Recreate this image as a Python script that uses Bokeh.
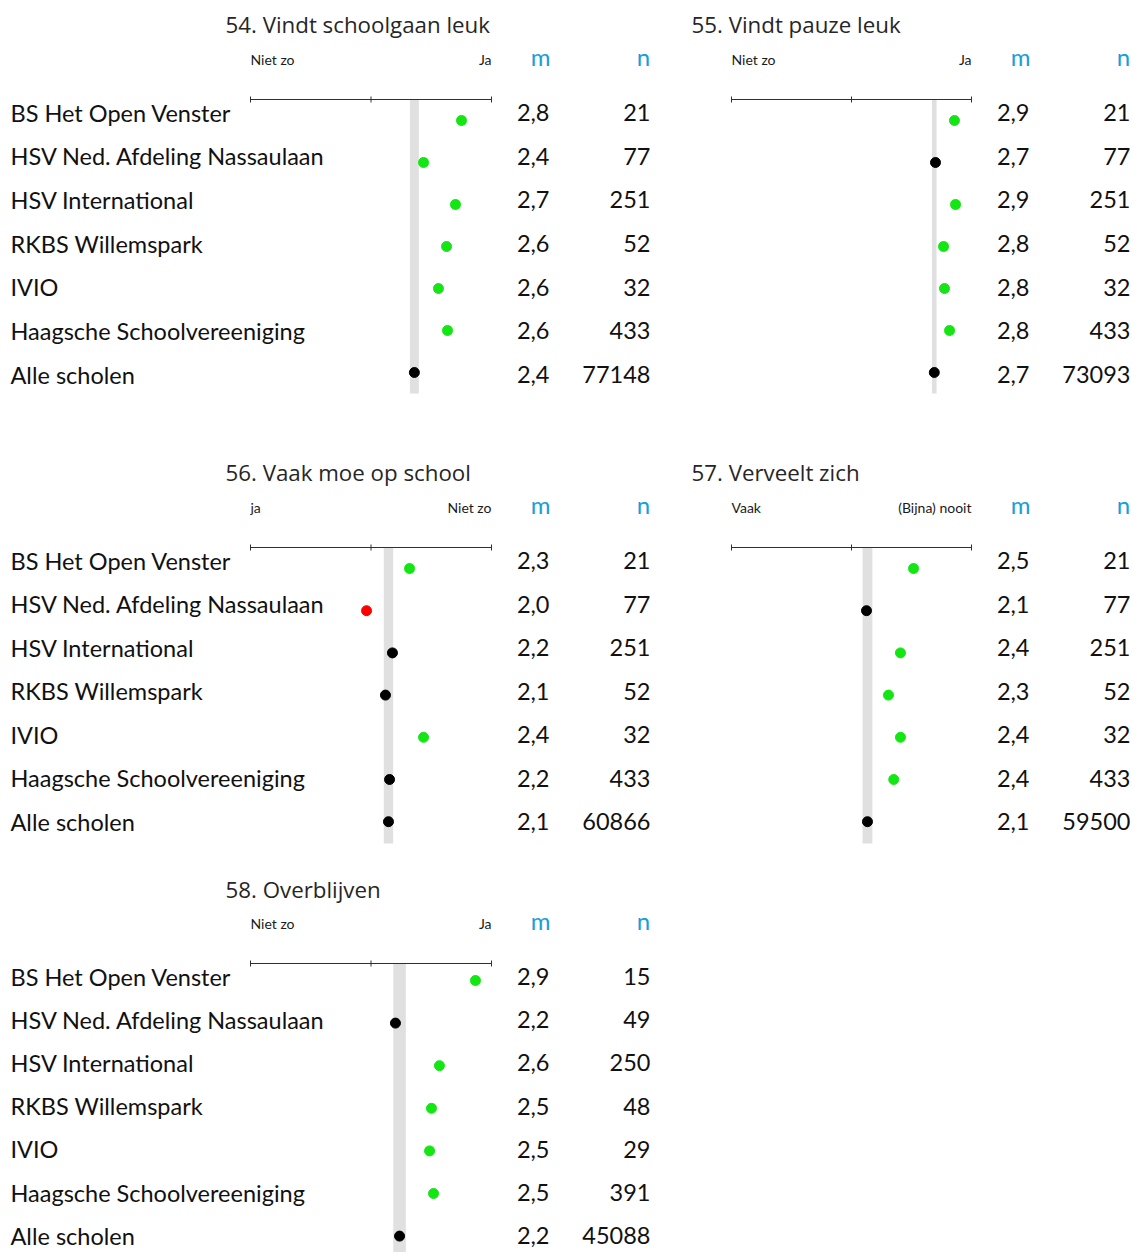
from bokeh.plotting import figure
from bokeh.models import Range1d, ColumnDataSource
from bokeh.layouts import column, row
from bokeh.embed import file_html
from bokeh.resources import INLINE
from bokeh.core.properties import value

# ---------------- data ----------------
schools = ["BS Het Open Venster", "HSV Ned. Afdeling Nassaulaan", "HSV International",
           "RKBS Willemspark", "IVIO", "Haagsche Schoolvereeniging", "Alle scholen"]

titles = ["54. Vindt schoolgaan leuk", "55. Vindt pauze leuk", "56. Vaak moe op school",
          "57. Verveelt zich", "58. Overblijven"]
low_labels = ["Niet zo", "Niet zo", "ja", "Vaak", "Niet zo"]
high_labels = ["Ja", "Ja", "Niet zo", "(Bijna) nooit", "Ja"]

mean_54 = [2.751, 2.436, 2.701, 2.627, 2.560, 2.635, 2.36]
mean_55 = [2.858, 2.700, 2.867, 2.767, 2.775, 2.817, 2.69]
mean_56 = [2.320, 1.963, 2.178, 2.120, 2.436, 2.154, 2.145]
mean_57 = [2.517, 2.125, 2.408, 2.308, 2.408, 2.352, 2.133]
mean_58 = [2.867, 2.203, 2.568, 2.502, 2.486, 2.519, 2.237]

n_54 = [21, 77, 251, 52, 32, 433, 77148]
n_55 = [21, 77, 251, 52, 32, 433, 73093]
n_56 = [21, 77, 251, 52, 32, 433, 60866]
n_57 = [21, 77, 251, 52, 32, 433, 59500]
n_58 = [15, 49, 250, 48, 29, 391, 45088]

# significance vs. all schools: + higher, 0 same, - lower
sig_54 = ["+", "+", "+", "+", "+", "+", "0"]
sig_55 = ["+", "0", "+", "+", "+", "+", "0"]
sig_56 = ["+", "-", "0", "0", "+", "0", "0"]
sig_57 = ["+", "0", "+", "+", "+", "+", "0"]
sig_58 = ["+", "0", "+", "+", "+", "+", "0"]

# half width of the band around the mean of all schools
band_54 = 0.037
band_55 = 0.019
band_56 = 0.039
band_57 = 0.041
band_58 = 0.052

scale_ticks = [1, 2, 3]

# ---------------- styling ----------------
SIG_COLOR = {"+": "#14e614", "0": "#000000", "-": "#ff0000"}
BLUE = "#14a0e0"
FONT = "Lato"
TITLE_FONT = "Open Sans"

LEFT = dict(width=668, axis_px=250, ppu=120.5, title_x=225, name_x=10,
            m_right=549, n_right=650, head_m=540, head_n=643)
RIGHT = dict(width=466, axis_px=63, ppu=120.0, title_x=23, name_x=None,
             m_right=361, n_right=462, head_m=352, head_n=455)
ROW1 = dict(height=448, title_y=24, head_y=59, axis_y=99, text_y0=112,
            text_step=43.67, dot_y0=120, dot_step=42.0, band_bottom=393)
ROW2 = dict(height=417, title_y=24, head_y=59, axis_y=99, text_y0=112,
            text_step=43.5, dot_y0=120, dot_step=42.2, band_bottom=395)
ROW3 = dict(height=387, title_y=24, head_y=58, axis_y=98, text_y0=111,
            text_step=43.2, dot_y0=115, dot_step=42.6, band_bottom=387)


def fmt(v):
    return f"{v:.1f}".replace(".", ",")


def panel(idx, means, ns, sigs, band, hz, vt):
    W, H = hz["width"], vt["height"]
    ppu, ax = hz["ppu"], hz["axis_px"]
    X = lambda px: 1 + (px - ax) / ppu  # pixel position -> data units
    p = figure(width=W, height=H, x_range=Range1d(X(0), X(W)), y_range=Range1d(H, 0),
               output_backend="svg", toolbar_location=None,
               x_axis_location=None, y_axis_location=None, min_border=0,
               outline_line_color=None, background_fill_color="white",
               border_fill_color="white")
    p.grid.visible = False

    rows = list(range(len(schools)))
    text_y = [vt["text_y0"] + i * vt["text_step"] for i in rows]
    dot_y = [vt["dot_y0"] + i * vt["dot_step"] for i in rows]

    # band around all-schools mean
    allm = means[-1]
    p.quad(left=[allm - band], right=[allm + band], top=[vt["axis_y"]],
           bottom=[vt["band_bottom"]], fill_color="#e0e0e0", line_color=None)

    # scale line with ticks
    p.segment(x0=[scale_ticks[0]], x1=[scale_ticks[-1]], y0=[vt["axis_y"]], y1=[vt["axis_y"]],
              line_color="#303030", line_width=1.2)
    p.segment(x0=scale_ticks, x1=scale_ticks, y0=[vt["axis_y"] - 3] * 3,
              y1=[vt["axis_y"] + 3] * 3, line_color="#303030", line_width=1)

    # dots
    src = ColumnDataSource(dict(x=means, y=dot_y, c=[SIG_COLOR[s] for s in sigs]))
    p.scatter("x", "y", source=src, size=10, fill_color="c", line_color="c")

    # title
    p.text(x=[X(hz["title_x"])], y=[vt["title_y"]], text=[titles[idx]],
           text_font=value(TITLE_FONT), text_font_size="22.3px", text_color="#262626",
           text_baseline="middle", text_align="left")
    # scale end labels
    p.text(x=[scale_ticks[0]], y=[vt["head_y"]], text=[low_labels[idx]],
           text_font=value(FONT), text_font_size="14px", text_color="#1a1a1a",
           text_baseline="middle", text_align="left")
    p.text(x=[scale_ticks[-1]], y=[vt["head_y"]], text=[high_labels[idx]],
           text_font=value(FONT), text_font_size="14px", text_color="#1a1a1a",
           text_baseline="middle", text_align="right")
    # m / n headers
    p.text(x=[X(hz["head_m"])], y=[vt["head_y"] - 3], text=["m"], text_font=value(FONT),
           text_font_size="24px", text_color=BLUE, text_baseline="middle", text_align="center")
    p.text(x=[X(hz["head_n"])], y=[vt["head_y"] - 3], text=["n"], text_font=value(FONT),
           text_font_size="24px", text_color=BLUE, text_baseline="middle", text_align="center")

    tsrc = ColumnDataSource(dict(y=text_y, name=schools, m=[fmt(v) for v in means],
                                 n=[str(v) for v in ns],
                                 xm=[X(hz["m_right"])] * len(rows),
                                 xn=[X(hz["n_right"])] * len(rows),
                                 xs=[X(hz["name_x"] if hz["name_x"] is not None else 0)] * len(rows)))
    if hz["name_x"] is not None:
        p.text(x="xs", y="y", text="name", source=tsrc, text_font=value(FONT),
               text_font_size="23.5px", text_color="#111111", text_baseline="middle",
               text_align="left")
    p.text(x="xm", y="y", text="m", source=tsrc, text_font=value(FONT),
           text_font_size="23.5px", text_color="#111111", text_baseline="middle", text_align="right")
    p.text(x="xn", y="y", text="n", source=tsrc, text_font=value(FONT),
           text_font_size="23.5px", text_color="#111111", text_baseline="middle", text_align="right")
    return p


p54 = panel(0, mean_54, n_54, sig_54, band_54, LEFT, ROW1)
p55 = panel(1, mean_55, n_55, sig_55, band_55, RIGHT, ROW1)
p56 = panel(2, mean_56, n_56, sig_56, band_56, LEFT, ROW2)
p57 = panel(3, mean_57, n_57, sig_57, band_57, RIGHT, ROW2)
p58 = panel(4, mean_58, n_58, sig_58, band_58, LEFT, ROW3)

layout = column(row(p54, p55), row(p56, p57), row(p58))
open("out.html", "w").write(file_html(layout, INLINE))
